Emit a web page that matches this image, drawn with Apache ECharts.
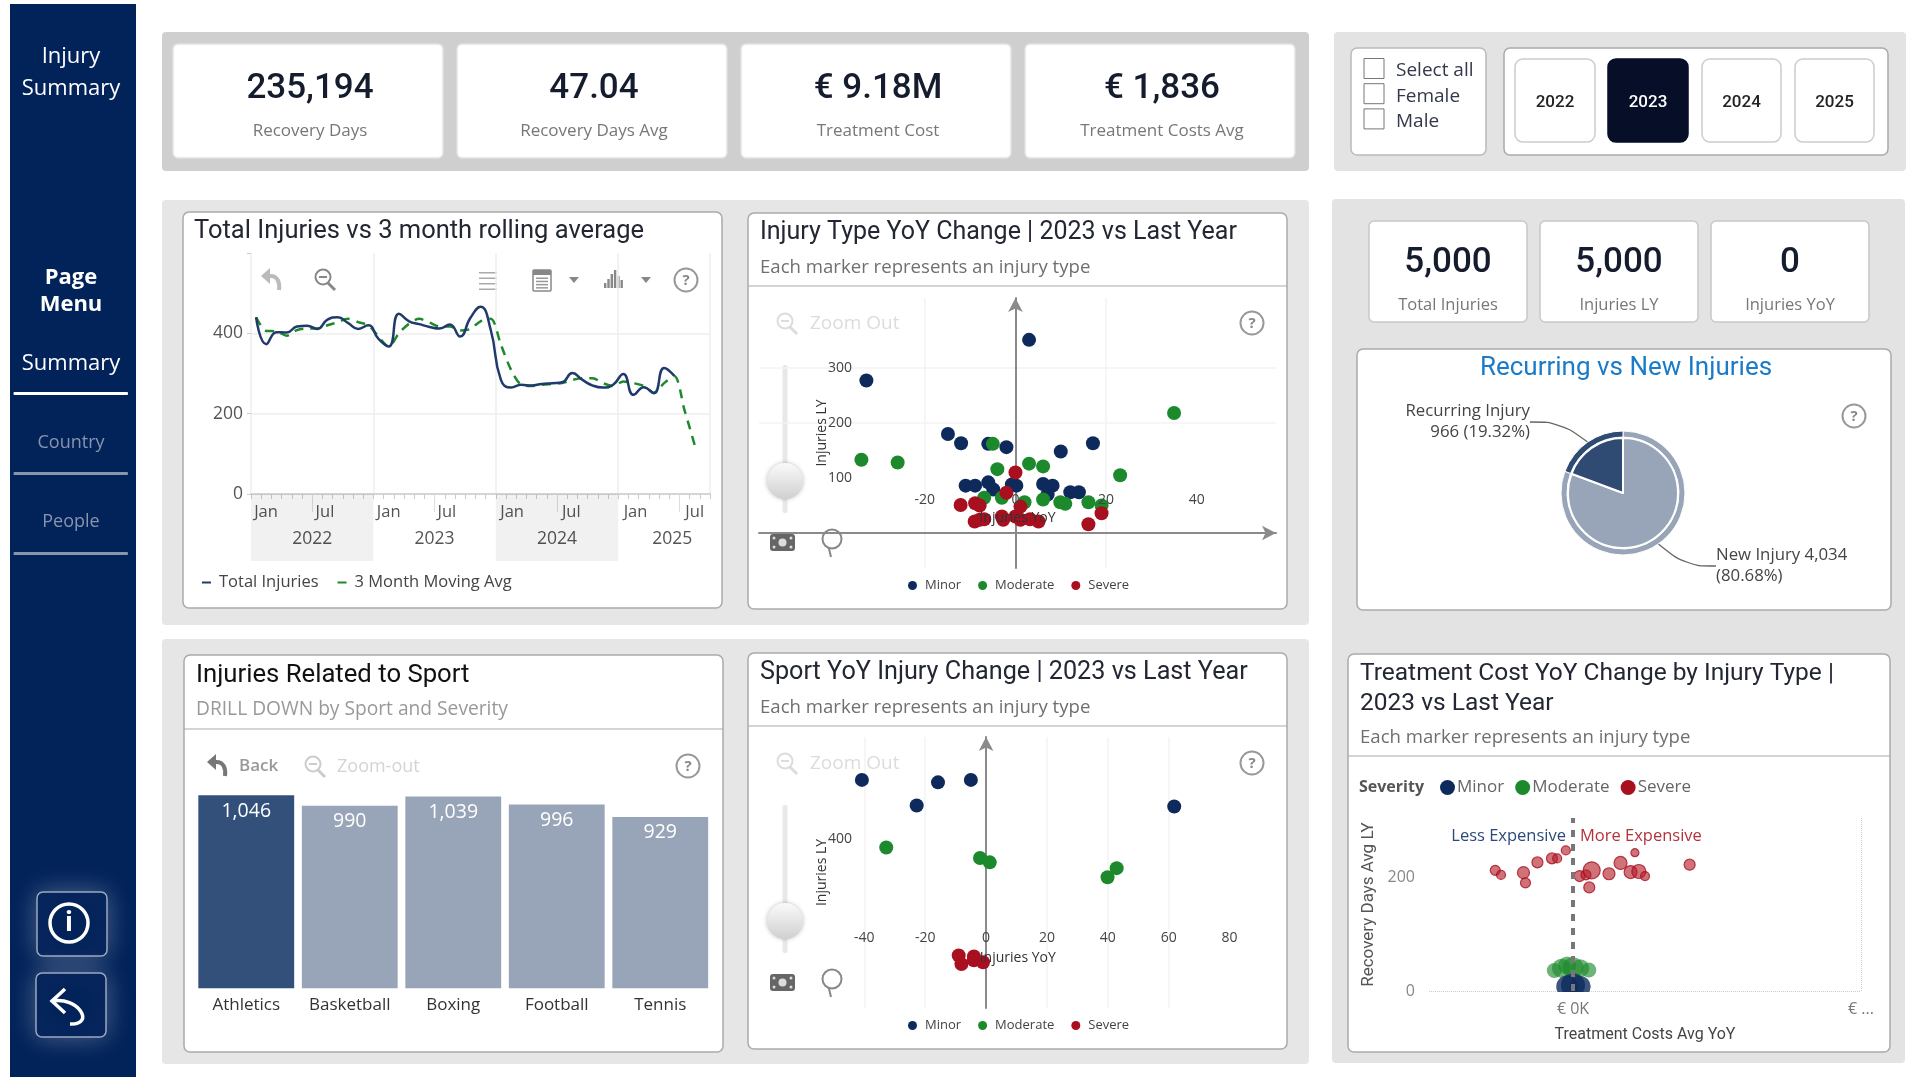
<!DOCTYPE html>
<html lang="en">
<head>
<meta charset="UTF-8">
<title>Injury Summary</title>
<script src="https://cdn.jsdelivr.net/npm/echarts@6/dist/echarts.min.js"></script>
<style>
    html, body { margin: 0; padding: 0; background: #fff; overflow: hidden; }
    #main { width: 1920px; height: 1080px; }
</style>
</head>
<body>
<div id="main"></div>
<script>
// ---- data ----
const months = [];
['2022', '2023', '2024', '2025'].forEach(function (y) {
    ['Jan', 'Feb', 'Mar', 'Apr', 'May', 'Jun', 'Jul', 'Aug', 'Sep', 'Oct', 'Nov', 'Dec'].forEach(function (m) {
        months.push(m + ' ' + y);
    });
});
const axisMonths = months.slice(0, 45);
const totalInjuries = [440, 373, 403, 402, 417, 419, 411, 434, 440, 426, 411, 420, 386, 367, 449, 430, 423, 416, 412, 422, 392, 438, 466, 409,
    284, 265, 272, 270, 274, 276, 278, 301, 284, 270, 265, 272, 299, 247, 266, 251, 314, 294];
const movingAvg = [440, 406, 405, 394, 408, 412, 412, 420, 428, 436, 428, 420, 392, 367, 400, 424, 436, 427, 417, 417, 407, 411, 430, 436,
    372, 309, 272, 269, 272, 274, 276, 284, 288, 288, 276, 269, 280, 276, 269, 252, 276, 294, 209, 122];
const monthLabelNames = ['Jan', 'Jul', 'Jan', 'Jul', 'Jan', 'Jul', 'Jan', 'Jul'];
const monthLabelPos = [1.47, 7.25, 13.5, 19.2, 25.6, 31.4, 37.7, 43.5];
const monthLongTicks = [6, 18, 30, 42];
const yearNames = ['2022', '2023', '2024', '2025'];
const yearPos = [6, 18, 30, 41.3];
const yearBands = [[0, 12], [24, 36]];

const typeMinor = [[3, 351], [-32.9, 277], [-14.9, 180], [-12, 163], [-6, 162], [-2, 156], [10, 148], [17.1, 163], [-6, 92], [-4.9, 79],
    [-11, 86], [-8.9, 86], [-0.8, 88], [0.2, 86], [6.1, 89], [8.2, 86], [7.1, 70], [12.1, 74], [14, 74]];
const typeModerate = [[35, 218], [-34, 133], [-26, 128], [-5, 162], [-4, 116], [3, 126], [6.1, 121], [23.1, 105], [-6.9, 64], [-3, 64],
    [2, 56], [6.1, 61], [9.9, 56], [11, 53], [16.1, 56], [19, 50]];
const typeSevere = [[0, 110], [-2, 73], [-12.1, 51], [-8.9, 54], [-7.9, 50], [1.1, 48], [19, 36], [16.1, 16], [-9, 21], [-7.9, 24],
    [-6.9, 25], [-3, 30], [-2.7, 24], [0, 30], [1.1, 24], [3.2, 25], [5.1, 21]];

const sportMinor = [[-40.8, 523], [-15.8, 518], [-5, 523], [-22.8, 470], [61.8, 468]];
const sportModerate = [[-32.8, 383], [-2, 361], [1.2, 352], [42.9, 340], [39.9, 321]];
const sportSevere = [[-9, 159], [-8.1, 141], [-4, 157], [-4, 149], [-1, 145]];

const sports = ['Athletics', 'Basketball', 'Boxing', 'Football', 'Tennis'];
const sportInjuries = [1046, 990, 1039, 996, 929];

const pieNames = ['New Injury', 'Recurring Injury'];
const pieValues = [4034, 966];

// cost YoY (K), recovery days LY, marker size
const costSevere = [[-54, 212, 10], [-50, 204, 9], [-34.4, 208, 12], [-33, 190, 10], [-24.7, 226, 11], [-14.6, 233, 11], [-11, 233, 9], [-5, 247, 9],
    [4.6, 202, 11], [9, 204, 10], [13, 212, 17], [11.3, 182, 11], [25, 206, 12], [33, 225, 13], [40, 209, 13], [45.7, 210, 14], [43, 243, 8], [50, 202, 9], [81, 222, 11]];
const costModerate = [[-13, 36, 15], [-8, 40, 19], [-4, 45, 18], [0, 41, 21], [5, 40, 18], [11, 37, 15]];
const costMinor = [[-4, 8, 22], [0, 10, 24], [5, 8, 21]];

const kpiTop = [['235,194', 'Recovery Days'], ['47.04', 'Recovery Days Avg'], ['€ 9.18M', 'Treatment Cost'], ['€ 1,836', 'Treatment Costs Avg']];
const kpiRight = [['5,000', 'Total Injuries'], ['5,000', 'Injuries LY'], ['0', 'Injuries YoY']];
const genders = ['Select all', 'Female', 'Male'];
const filterYears = ['2022', '2023', '2024', '2025'];

const NAVY = '#0E2A5C', GREEN = '#1C8A2C', RED = '#A80F1F';
const DIN = 'Roboto', BODY = '"Open Sans"';

// ---- page furniture, drawn with the graphic component ----
const g = [];
function box(x0, y0, x1, y1, fill, stroke, r, z, extra) {
    g.push({ type: 'rect', z: z === undefined ? -2 : z, silent: true, shape: { x: x0, y: y0, width: x1 - x0, height: y1 - y0, r: r || 0 },
        style: Object.assign({ fill: fill, stroke: stroke || null, lineWidth: 1.5 }, extra || {}) });
}
function label(x, y, str, size, color, font, weight, align) {
    g.push({ type: 'text', z: -1, silent: true, x: x, y: y + 1.5, style: { text: str, fontSize: size, fill: color, fontFamily: font || BODY,
        fontWeight: weight || 'normal', align: align || 'left', verticalAlign: 'middle' } });
}
function stroke(type, shape, color, w, z) {
    g.push({ type: type, z: z || -1, silent: true, shape: shape, style: { fill: null, stroke: color, lineWidth: w || 2 } });
}
function fillShape(type, shape, color, z) {
    g.push({ type: type, z: z || -1, silent: true, shape: shape, style: { fill: color } });
}
function helpIcon(x, y) {
    stroke('circle', { cx: x, cy: y, r: 11.5 }, '#999', 2);
    label(x, y - 1, '?', 15, '#888', BODY, 'bold', 'center');
}
function zoomIcon(x, y, c) {
    stroke('circle', { cx: x - 2, cy: y - 2, r: 7.5 }, c, 2);
    stroke('line', { x1: x + 3, y1: y + 4, x2: x + 10, y2: y + 11 }, c, 3);
    stroke('line', { x1: x - 6, y1: y - 2, x2: x + 2, y2: y - 2 }, c, 2);
}
function backIcon(x, y, c) {
    fillShape('polygon', { points: [[x - 11, y - 3], [x - 2, y - 11], [x - 2, y + 5]] }, c);
    stroke('bezierCurve', { x1: x - 3, y1: y - 3, cpx1: x + 6, cpy1: y - 4, cpx2: x + 8, cpy2: y + 4, x2: x + 7, y2: y + 11 }, c, 4);
}
function scatterTools(cy) {
    const y0 = cy - 323;
    label(810, cy - 1, 'Zoom Out', 19, '#dcdcdc');
    zoomIcon(787, cy, '#dcdcdc');
    helpIcon(1252, cy);
    box(782.5, 365 + y0, 787.5, 513 + y0, '#e8e8e8', null, 2, -1);
    g.push({ type: 'circle', z: 4, silent: true, shape: { cx: 785, cy: 481 + y0, r: 18 }, style: {
        fill: { type: 'linear', x: 0, y: 0, x2: 0, y2: 1, colorStops: [{ offset: 0, color: '#fafafa' }, { offset: 1, color: '#d0d0d0' }] },
        shadowBlur: 4, shadowColor: 'rgba(0,0,0,0.25)' } });
    box(770, 534 + y0, 795, 551 + y0, '#666', null, 3, 3);
    fillShape('circle', { cx: 782.5, cy: 542.5 + y0, r: 4 }, '#ddd', 4);
    [[774, 538], [791, 538], [774, 547], [791, 547]].forEach(function (p) {
        fillShape('circle', { cx: p[0], cy: p[1] + y0, r: 1.5 }, '#ddd', 4);
    });
    stroke('circle', { cx: 832, cy: 539 + y0, r: 9.5 }, '#888', 2, 3);
    stroke('line', { x1: 829, y1: 549 + y0, x2: 831, y2: 557 + y0 }, '#888', 2, 3);
}

// sidebar
const SIDE = '#02225A';
box(10, 4, 136, 1077, SIDE, null, 0);
label(71, 55, 'Injury', 22, '#fff', BODY, 'normal', 'center');
label(71, 87, 'Summary', 22, '#fff', BODY, 'normal', 'center');
label(71, 276, 'Page', 22, '#fff', BODY, 'bold', 'center');
label(71, 303, 'Menu', 22, '#fff', BODY, 'bold', 'center');
label(71, 362, 'Summary', 22, '#fff', BODY, 'normal', 'center');
box(13.5, 392, 128, 395, '#fff', null, 1, -1);
label(71, 441, 'Country', 18, '#8795AD', BODY, 'normal', 'center');
box(13.5, 472, 128, 475, '#8795AD', null, 1, -1);
label(71, 520, 'People', 18, '#8795AD', BODY, 'normal', 'center');
box(13.5, 552, 128, 555, '#8795AD', null, 1, -1);
box(37, 892, 107, 956, SIDE, '#9aa8bf', 6, -1, { shadowBlur: 26, shadowColor: 'rgba(255,255,255,0.3)' });
box(36, 973, 106, 1037, SIDE, '#9aa8bf', 6, -1, { shadowBlur: 26, shadowColor: 'rgba(255,255,255,0.3)' });
stroke('circle', { cx: 69, cy: 923, r: 19 }, '#fff', 3.5);
label(69, 922, 'i', 28, '#fff', 'Roboto', 'bold', 'center');
stroke('polyline', { points: [[65, 989], [52, 1001], [65, 1013]] }, '#fff', 3.5);
stroke('bezierCurve', { x1: 52, y1: 1001, cpx1: 78, cpy1: 996, cpx2: 96, cpy2: 1025, x2: 70, y2: 1024 }, '#fff', 3.5);

// grey panels
box(162, 32, 1309, 171, '#CFCFCF', null, 4, -3);
box(1334, 32, 1906, 171, '#E3E3E3', null, 4, -3);
box(162, 200, 1309, 625, '#E6E6E6', null, 4, -3);
box(162, 639, 1309, 1064, '#E6E6E6', null, 4, -3);
box(1332, 199, 1905, 1063, '#E3E3E3', null, 4, -3);

// KPI cards
[[173, 443], [457, 727], [741, 1011], [1025, 1295]].forEach(function (c, i) {
    box(c[0], 44, c[1], 158, '#fff', '#e2e2e2', 5);
    label((c[0] + c[1]) / 2 + 2, 88, kpiTop[i][0], 35, '#141C2E', DIN, '500', 'center');
    label((c[0] + c[1]) / 2 + 2, 130, kpiTop[i][1], 17, '#777', BODY, 'normal', 'center');
});
[[1369, 1527], [1540, 1698], [1711, 1869]].forEach(function (c, i) {
    box(c[0], 221, c[1], 322, '#fff', '#c8c8c8', 5);
    label((c[0] + c[1]) / 2, 262, kpiRight[i][0], 35, '#141C2E', DIN, '500', 'center');
    label((c[0] + c[1]) / 2, 304, kpiRight[i][1], 16.5, '#777', BODY, 'normal', 'center');
});

// slicers
box(1351, 48, 1486, 155, '#fff', '#bbb', 6);
box(1504, 48, 1888, 155, '#fff', '#aaa', 6);
genders.forEach(function (name, i) {
    const y = 68.5 + i * 25.2;
    box(1364, y - 10, 1384, y + 10, '#fff', '#777', 0, -1, { lineWidth: 1 });
    label(1396, y + 1, name, 19, '#33384a');
});
[[1515, 1595], [1608, 1688], [1702, 1781], [1795, 1874]].forEach(function (c, i) {
    const on = filterYears[i] === '2023';
    box(c[0], 59, c[1], 142, on ? '#060E28' : '#fff', on ? '#060E28' : '#ccc', 8, -1);
    label((c[0] + c[1]) / 2, 101, filterYears[i], 17, on ? '#fff' : '#222', DIN, '500', 'center');
});

// chart cards
box(183, 212, 722, 608, '#fff', '#aaa', 6);
box(748, 213, 1287, 609, '#fff', '#aaa', 6);
box(184, 655, 723, 1052, '#fff', '#aaa', 6);
box(748, 653, 1287, 1049, '#fff', '#aaa', 6);
box(1357, 349, 1891, 610, '#fff', '#aaa', 6);
box(1348, 654, 1890, 1052, '#fff', '#aaa', 6);
[[748, 1287, 286], [184, 723, 729], [748, 1287, 726], [1348, 1890, 756]].forEach(function (d) {
    box(d[0], d[2] - 0.5, d[1], d[2] + 0.5, '#aaa', null, 0, -1);
});

// titles
const TITLE = '#232733', SUB = '#6f6f6f';
label(194, 230.5, 'Total Injuries vs 3 month rolling average', 25.5, TITLE, DIN);
label(760, 231.5, 'Injury Type YoY Change | 2023 vs Last Year', 25, TITLE, DIN);
label(760, 266, 'Each marker represents an injury type', 18.6, SUB);
label(196, 674, 'Injuries Related to Sport', 25.7, '#111', DIN);
label(196, 708.5, 'DRILL DOWN by Sport and Severity', 19.2, '#999');
label(760, 671.5, 'Sport YoY Injury Change | 2023 vs Last Year', 25.2, TITLE, DIN);
label(760, 706, 'Each marker represents an injury type', 18.6, SUB);
label(1360, 672.5, 'Treatment Cost YoY Change by Injury Type |', 24.5, TITLE, DIN);
label(1360, 702, '2023 vs Last Year', 24.5, TITLE, DIN);
label(1360, 736.5, 'Each marker represents an injury type', 18.6, SUB);
label(1626, 367, 'Recurring vs New Injuries', 26, '#1A7BC9', DIN, 'normal', 'center');

// toolbars
backIcon(272, 279, '#bbb');
zoomIcon(325, 279, '#888');
for (let i = 0; i < 4; i++) {
    box(479, 272 + i * 5.5, 497, 273.5 + i * 5.5, '#aaa', null, 0, -1);
}
box(533, 270, 551, 291, '#fff', '#888', 1, -1);
box(533, 270, 551, 275, '#888', null, 0, -1);
for (let i = 0; i < 4; i++) {
    box(536, 277.5 + i * 3.2, 548, 279 + i * 3.2, '#999', null, 0, -1);
}
fillShape('polygon', { points: [[569, 277], [579, 277], [574, 283]] }, '#888');
[5, 9, 14, 18, 12, 8].forEach(function (h, i) {
    box(604 + i * 3.3, 288 - h, 606.4 + i * 3.3, 288, '#888', null, 0, -1);
});
fillShape('polygon', { points: [[641, 277], [651, 277], [646, 283]] }, '#888');
helpIcon(686, 280);
scatterTools(323);
scatterTools(763);
backIcon(218, 765, '#777');
label(239, 765, 'Back', 17, '#999', BODY, '600');
zoomIcon(315, 766, '#ccc');
label(337, 765, 'Zoom-out', 18, '#d4d4d4');
helpIcon(688, 766);
helpIcon(1854, 416);

// cost chart extras
label(1359, 786, 'Severity', 16, '#555', BODY, 'bold');
label(1566, 835, 'Less Expensive', 16.5, '#2B4A7A', BODY, 'normal', 'right');
label(1580, 835, 'More Expensive', 16.5, '#B2333C');
// marks sit on the zero line and are cut off there
box(1540, 992, 1610, 1000, '#fff', null, 0, 3);

// ---- chart pieces ----
const tickLabel = { fontFamily: BODY, fontSize: 14, color: '#444' };
const faint = { lineStyle: { color: '#f3f3f3', width: 1.5 } };
const axisName = { fontFamily: BODY, fontSize: 14, color: '#333' };

// labels and name sit above the markers, so the grid lines go on a second axis below them
function quadrantX(grid, min, max, shown, margin, opts) {
    return Object.assign({
        type: 'value', gridIndex: grid, z: 3, min: min, max: max, position: 'bottom',
        name: 'Injuries YoY', nameLocation: 'middle', nameMoveOverlap: false, nameGap: -57, nameTextStyle: axisName,
        axisTick: { show: false },
        axisLabel: Object.assign({ customValues: shown, formatter: String, margin: margin }, tickLabel),
        splitLine: { show: false }
    }, opts);
}
function quadrantXLines(grid, min, max, lines) {
    return { type: 'value', gridIndex: grid, min: min, max: max, position: 'bottom', axisLine: { show: false }, axisLabel: { show: false },
        axisTick: { show: false, customValues: lines },
        splitLine: Object.assign({ show: true, showMinLine: false, showMaxLine: false }, faint) };
}
function quadrantY(grid, min, max, shown, lines) {
    return {
        type: 'value', gridIndex: grid, min: min, max: max,
        name: 'Injuries LY', nameLocation: 'middle', nameRotate: 90, nameMoveOverlap: false, nameGap: -70, nameTextStyle: axisName,
        axisTick: { show: false, customValues: lines },
        axisLine: { show: true, onZero: true, symbol: ['none', 'arrow'], symbolSize: [11, 14], lineStyle: { color: '#8a8a8a', width: 2 } },
        axisLabel: Object.assign({ customValues: shown, formatter: String, margin: -93 }, tickLabel),
        splitLine: Object.assign({ show: true, showMinLine: false, showMaxLine: false }, faint)
    };
}
function dots(name, data, color, x, y) {
    return { name: name, type: 'scatter', xAxisIndex: x, yAxisIndex: y, data: data, symbolSize: 14, itemStyle: { color: color, opacity: 1 } };
}
function severityLegend(left, top) {
    return { left: left, top: top, data: ['Minor', 'Moderate', 'Severe'], icon: 'circle', itemWidth: 9, itemHeight: 9, itemGap: 17,
        selectedMode: false, padding: 0, textStyle: { fontFamily: BODY, fontSize: 13, color: '#444', padding: [0, 0, 0, 3] } };
}

const option = {
    animation: false,
    backgroundColor: '#fff',
    graphic: { elements: g },
    grid: [
        { left: 251, width: 459, top: 253, height: 241 },
        { left: 251, width: 459, top: 494, height: 67 },
        { left: 759, width: 517, top: 298, height: 270 },
        { left: 759, width: 517.5, top: 737, height: 271 },
        { left: 194.5, width: 517.5, top: 795.3, height: 193 },
        { left: 1429, width: 432, top: 818, height: 173 }
    ],
    legend: [
        { left: 202, top: 574, data: ['Total Injuries', '3 Month Moving Avg'], icon: 'rect', itemWidth: 9, itemHeight: 2, itemGap: 19, selectedMode: false,
            padding: 0, textStyle: { fontFamily: BODY, fontSize: 16.5, color: '#444', padding: [0, 0, 0, 3] } },
        severityLegend(908, 579),
        severityLegend(908, 1019),
        { left: 1440, top: 779, data: ['Minor', 'Moderate', 'Severe'], icon: 'circle', itemWidth: 15, itemHeight: 15, itemGap: 11, selectedMode: false,
            padding: 0, textStyle: { fontFamily: BODY, fontSize: 17, color: '#666', padding: [0, 0, 0, -3] } }
    ],
    xAxis: [
        // 0: months carrying the lines
        { type: 'category', gridIndex: 0, data: axisMonths, boundaryGap: true,
            axisLine: { onZero: false, lineStyle: { color: '#ccc', width: 1.5 } },
            axisTick: { show: true, interval: 0, length: 5, lineStyle: { color: '#ccc' } },
            axisLabel: { show: false },
            splitLine: { show: true, interval: function (i) { return i % 12 === 0; }, lineStyle: { color: '#eee', width: 1.5 } } },
        // 1: Jan/Jul labels
        { type: 'value', gridIndex: 0, min: 0, max: 45, position: 'bottom', axisLine: { show: false }, splitLine: { show: false },
            axisTick: { show: true, customValues: monthLongTicks, length: 18, lineStyle: { color: '#ddd' } },
            axisLabel: { customValues: monthLabelPos, margin: 10, fontFamily: BODY, fontSize: 16.5, color: '#555', formatter: function (v) { return monthLabelNames[monthLabelPos.indexOf(v)]; } } },
        // 2: year labels
        { type: 'value', gridIndex: 0, min: 0, max: 45, position: 'bottom', offset: 26, axisLine: { show: false }, splitLine: { show: false }, axisTick: { show: false },
            axisLabel: { customValues: yearPos, margin: 10, fontFamily: BODY, fontSize: 17.5, color: '#555', formatter: function (v) { return yearNames[yearPos.indexOf(v)]; } } },
        // 3: behind the year bands
        { type: 'value', gridIndex: 1, min: 0, max: 45, show: false },
        // 4, 5: scatter axes
        quadrantX(2, -56.6, 57.5, [-20, 0, 20, 40], -75, {
            axisLine: { show: true, onZero: true, symbol: ['none', 'arrow'], symbolSize: [11, 14], lineStyle: { color: '#8a8a8a', width: 2 } } }),
        quadrantX(3, -74.6, 95.4, [-40, -20, 0, 20, 40, 60, 80], -77, { axisLine: { show: false } }),
        // 6: bars
        { type: 'category', gridIndex: 4, data: sports, axisLine: { show: false }, axisTick: { show: false },
            axisLabel: { interval: 0, margin: 8, fontFamily: BODY, fontSize: 17, color: '#333' } },
        // 7: cost
        { type: 'value', gridIndex: 5, min: -100, max: 200, name: 'Treatment Costs Avg YoY', nameLocation: 'middle', nameGap: 36, nameMoveOverlap: false,
            nameTextStyle: { fontFamily: DIN, fontSize: 16, color: '#444' },
            axisLine: { show: false }, axisTick: { show: false, customValues: [200] },
            axisLabel: { customValues: [0, 200], margin: 10, fontFamily: BODY, fontSize: 16, color: '#777', formatter: function (v) { return v === 0 ? '€ 0K' : '€ ...'; } },
            splitLine: { show: true, showMaxLine: true, lineStyle: { color: '#ccc', type: 'dotted' } } },
        // 8, 9: grid lines of the scatter charts
        quadrantXLines(2, -56.6, 57.5, [-40, -20, 20, 40]),
        quadrantXLines(3, -74.6, 95.4, [-60, -40, -20, 20, 40, 60, 80])
    ],
    yAxis: [
        { type: 'value', gridIndex: 0, min: 0, max: 600, interval: 200, axisLine: { show: false },
            axisTick: { show: true, length: 4, lineStyle: { color: '#ccc' } },
            axisLabel: { margin: 8, fontFamily: BODY, fontSize: 17.5, color: '#555', formatter: function (v) { return v === 600 ? '' : v; } },
            splitLine: { showMaxLine: false, lineStyle: { color: '#eee', width: 1.5 } } },
        { type: 'value', gridIndex: 1, min: 0, max: 1, show: false },
        quadrantY(2, -63.6, 427, [100, 200, 300], [100, 200, 300, 400]),
        quadrantY(3, 50, 612, [400], [200, 400]),
        { type: 'value', gridIndex: 4, min: 0, max: 1046, show: false },
        { type: 'value', gridIndex: 5, min: 0, max: 304, name: 'Recovery Days Avg LY', nameLocation: 'middle', nameRotate: 90, nameGap: 52, nameMoveOverlap: false,
            nameTextStyle: { fontFamily: DIN, fontSize: 17, color: '#555' },
            axisLine: { show: false }, axisTick: { show: false, customValues: [0, 200] },
            axisLabel: { customValues: [0, 200], margin: 14, fontFamily: BODY, fontSize: 16, color: '#888', formatter: String },
            splitLine: { show: true, showMinLine: true, showMaxLine: false, lineStyle: { color: '#ccc', type: 'dotted' } } }
    ],
    series: [
        { name: 'Year bands', type: 'line', xAxisIndex: 3, yAxisIndex: 1, data: [], silent: true,
            markArea: { silent: true, itemStyle: { color: 'rgba(0,0,0,0.055)' }, label: { show: false },
                data: yearBands.map(function (b) { return [{ xAxis: b[0], y: 494 }, { xAxis: b[1], y: 561 }]; }) } },
        { name: '3 Month Moving Avg', type: 'line', xAxisIndex: 0, yAxisIndex: 0, data: movingAvg, smooth: 0.3, showSymbol: false,
            itemStyle: { color: GREEN }, lineStyle: { color: GREEN, width: 2.5, type: [9, 7] } },
        { name: 'Total Injuries', type: 'line', xAxisIndex: 0, yAxisIndex: 0, data: totalInjuries, smooth: 0.5, showSymbol: false,
            itemStyle: { color: '#1F3A6B' }, lineStyle: { color: '#1F3A6B', width: 2.5 } },

        dots('Minor', typeMinor, NAVY, 4, 2),
        dots('Moderate', typeModerate, GREEN, 4, 2),
        dots('Severe', typeSevere, RED, 4, 2),
        dots('Minor', sportMinor, NAVY, 5, 3),
        dots('Moderate', sportModerate, GREEN, 5, 3),
        dots('Severe', sportSevere, RED, 5, 3),

        { name: 'Injuries', type: 'bar', xAxisIndex: 6, yAxisIndex: 4, barCategoryGap: '7.4%',
            data: sportInjuries.map(function (v, i) { return { value: v, itemStyle: { color: i === 0 ? '#33507A' : '#98A5B8' } }; }),
            label: { show: true, position: 'insideTop', distance: 6, fontFamily: BODY, fontSize: 19.5, color: '#fff',
                formatter: function (p) { return p.value.toLocaleString('en-US'); } } },

        { name: 'Moderate', type: 'scatter', xAxisIndex: 7, yAxisIndex: 5, data: costModerate, symbolSize: function (v) { return v[2]; },
            itemStyle: { color: 'rgba(28,138,44,0.8)' } },
        { name: 'Minor', type: 'scatter', xAxisIndex: 7, yAxisIndex: 5, data: costMinor, symbolSize: function (v) { return v[2]; },
            itemStyle: { color: NAVY } },
        { name: 'Severe', type: 'scatter', xAxisIndex: 7, yAxisIndex: 5, data: costSevere, symbolSize: function (v) { return v[2]; },
            itemStyle: { color: 'rgba(178,30,40,0.78)', borderColor: RED, borderWidth: 1.2 },
            markLine: { silent: true, symbol: 'none', label: { show: false }, data: [{ xAxis: 0 }],
                lineStyle: { color: '#777', width: 4, type: [7, 7] } } },

        { name: 'Recurring vs New', type: 'pie', center: [1623, 493], radius: [0, 55], startAngle: 90, clockwise: true, silent: true,
            data: pieNames.map(function (n, i) { return { name: n, value: pieValues[i], itemStyle: { color: i === 0 ? '#98A5B8' : '#304B73' } }; }),
            itemStyle: { borderColor: '#fff', borderWidth: 2 }, label: { show: false }, labelLine: { show: false } },
        { name: 'Recurring vs New ring', type: 'pie', center: [1623, 493], radius: [56, 62], startAngle: 90, clockwise: true, silent: true,
            data: pieNames.map(function (n, i) { return { name: n, value: pieValues[i], itemStyle: { color: i === 0 ? '#98A5B8' : '#304B73' } }; }),
            itemStyle: { borderColor: '#fff', borderWidth: 1 },
            label: { show: true, fontFamily: BODY, fontSize: 16.8, lineHeight: 21, color: '#444',
                formatter: function (p) {
                    const pct = (p.value / 50).toFixed(2) + '%';
                    const n = p.value.toLocaleString('en-US');
                    return p.name === 'New Injury' ? p.name + ' ' + n + '\n(' + pct + ')' : p.name + '\n' + n + ' (' + pct + ')';
                } },
            labelLine: { show: true, smooth: 0.4, length: 24, length2: 30, lineStyle: { color: '#666', width: 1.3 } },
            labelLayout: function (p) {
                return p.dataIndex === 0
                    ? { x: 1716, y: 566, align: 'left', verticalAlign: 'middle' }
                    : { x: 1530, y: 422, align: 'right', verticalAlign: 'middle' };
            } }
    ]
};

const myChart = echarts.init(document.getElementById('main'));
myChart.setOption(option);
</script>
</body>
</html>
